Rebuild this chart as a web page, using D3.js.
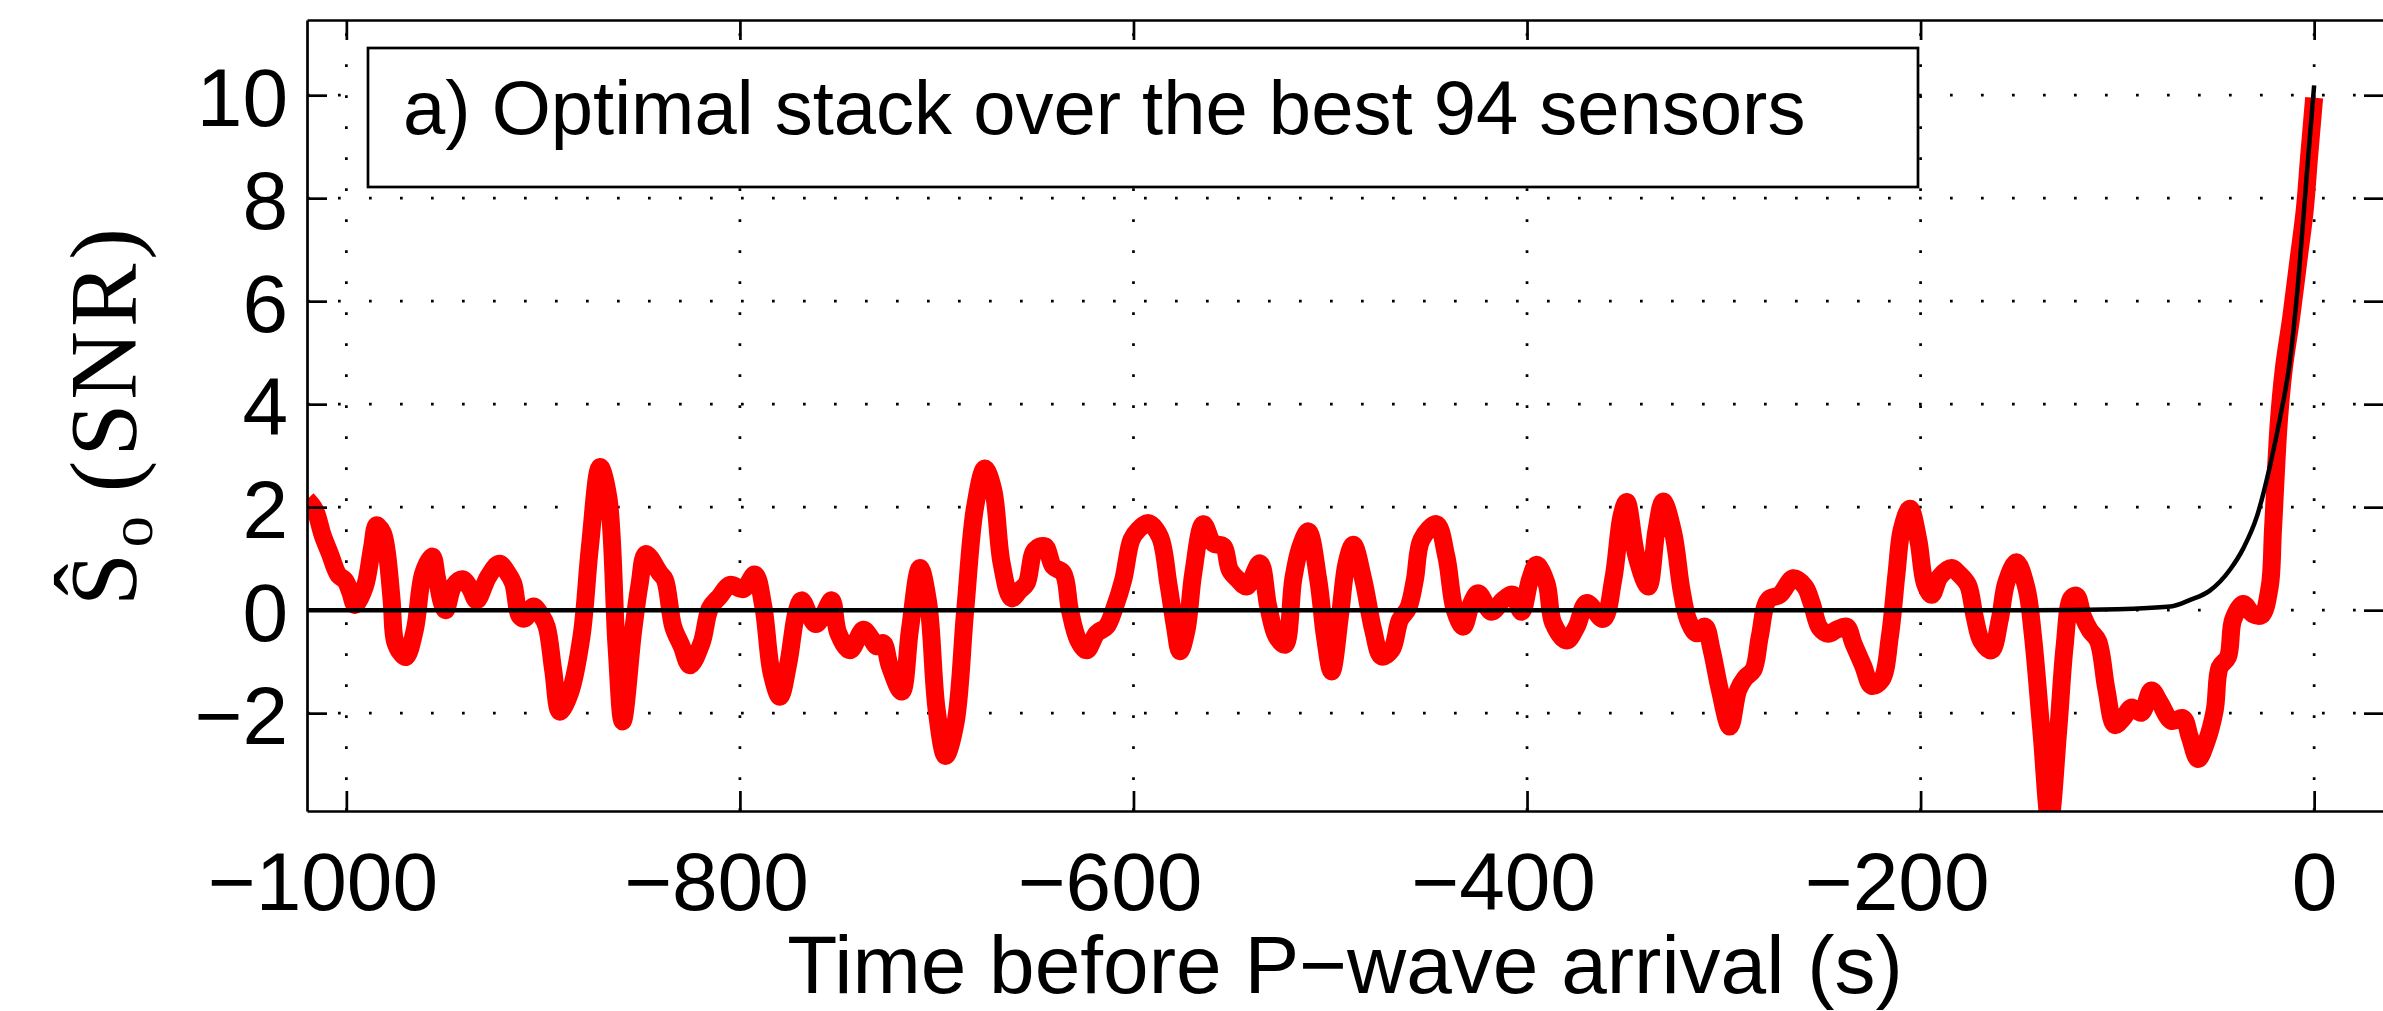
<!DOCTYPE html>
<html>
<head>
<meta charset="utf-8">
<script src="https://cdn.jsdelivr.net/npm/d3@7"></script>
<style>
  html, body { margin: 0; padding: 0; background: #fff; }
  svg { display: block; }
  text { font-family: "Liberation Sans", Arial, Helvetica, sans-serif; fill: #000; }
</style>
</head>
<body>
<svg id="chart" width="2383" height="1011"></svg>
<script>
//************* data ***************/
var xTicks = [-1000, -800, -600, -400, -200, 0];
var yTicks = [-2, 0, 2, 4, 6, 8, 10];

// optimal stack (red)
var stackTime = [-1020, -1016, -1012, -1008.4, -1004, -1000.7, -998, -995.6, -990.6, -987, -984.6, -981.5, -979.6, -977, -975.3, -972, -969.7, -965.2, -960.9, -956.3,
  -954.1, -951.5, -949.6, -945.7, -941.1, -937, -933.8, -927.9, -922.3, -918, -915.2, -911.8, -909.3, -905, -901, -898.2, -894.9, -891.5, -886.4, -880.5,
  -876.2, -871.1, -866.9, -862.7, -859.6, -854.2, -851, -847.8, -840.7, -838.1, -833.9, -829.6, -825.4, -819.5, -815.2, -810.2, -805.1, -798.3, -792.4, -788.1,
  -783.9, -779.7, -775.4, -771.2, -768.7, -764.4, -761.4, -757.6, -753.4, -750, -744.1, -737.3, -733.9, -730.5, -727.2, -723.8, -717.8, -713.6, -708.5, -704.3,
  -700, -695.5, -690.5, -685.5, -680.5, -675.5, -671.3, -667, -661.9, -657.7, -654.3, -650.1, -645, -640.8, -635.7, -632.3, -628.1, -623.8, -618.7, -613.7,
  -609.4, -605.2, -601, -597.6, -592.5, -586.6, -582.3, -578.9, -576.4, -573, -569.6, -564.5, -559.5, -554.3, -551, -546.8, -542.5, -535.7, -531.5, -527.3,
  -523, -518.8, -515.4, -511.2, -506.1, -502.7, -499.3, -495.1, -491.7, -488.3, -483.2, -478.2, -473.9, -468.8, -464.6, -460.4, -457, -453.6, -446, -441,
  -436.7, -432.4, -428.2, -424.8, -418, -412.1, -407.3, -402.8, -398.5, -395.1, -390.1, -386.7, -379.9, -374.8, -369.7, -361.3, -356.2, -352, -349.4, -344.3,
  -338.4, -334.2, -330.8, -325.7, -321.5, -318.1, -313.8, -309.6, -306.2, -302, -296.9, -292.7, -289.3, -285, -281.7, -277.4, -271.5, -264.7, -258.8, -255.4,
  -251.2, -246.9, -242.7, -237.6, -234.2, -229.1, -224.9, -219.8, -215.6, -212.2, -209.6, -205.4, -201.2, -197.8, -194.4, -190.2, -184.2, -180.1, -175.9, -172.5,
  -169.1, -164, -159.8, -156.4, -151.3, -146.2, -142.9, -138.6, -134.4, -130.1, -126.8, -123.4, -120.8, -117.4, -114, -109.8, -105.6, -101.3, -97.1, -92.9,
  -87.8, -82.7, -78.5, -72.5, -66.6, -63.2, -59, -54.8, -50.5, -48, -43.8, -41.2, -36.1, -31.1, -26.8, -22.6, -20.9, -18, -15.5, -11.6,
  -8.2, -4.8, -2.6, 0];
var stackSnr = [2.15, 1.95, 1.45, 1.1, 0.68, 0.58, 0.35, 0.1, 0.46, 1.2, 1.65, 1.5, 1.17, 0.2, -0.6, -0.85, -0.91, -0.38, 0.72, 1.04,
  0.65, 0.15, 0.0, 0.46, 0.6, 0.42, 0.19, 0.65, 0.9, 0.72, 0.52, -0.12, -0.16, 0.07, -0.1, -0.32, -1.16, -1.97, -1.61, -0.51,
  1.24, 2.78, 2.2, -0.7, -2.16, -0.38, 0.5, 1.09, 0.72, 0.59, -0.32, -0.7, -1.07, -0.64, 0.04, 0.27, 0.49, 0.41, 0.69, 0.07,
  -1.22, -1.68, -1.03, -0.03, 0.19, -0.12, -0.27, -0.09, 0.19, -0.45, -0.78, -0.38, -0.51, -0.7, -0.64, -1.09, -1.58, -0.38, 0.82, 0.14,
  -1.94, -2.83, -2.2, 0.0, 2.0, 2.75, 2.34, 0.91, 0.23, 0.39, 0.52, 1.17, 1.24, 0.85, 0.72, 0.0, -0.58, -0.78, -0.45, -0.32,
  0.07, 0.59, 1.37, 1.56, 1.69, 1.43, 0.52, -0.32, -0.8, -0.38, 0.72, 1.67, 1.3, 1.24, 0.78, 0.59, 0.46, 0.91, 0.07, -0.51,
  -0.67, 0.6, 1.2, 1.53, 0.59, -0.51, -1.19, -0.12, 0.91, 1.27, 0.59, -0.38, -0.9, -0.77, -0.19, 0.04, 0.59, 1.37, 1.67, 1.04,
  0.0, -0.32, 0.14, 0.33, -0.03, 0.2, 0.3, -0.03, 0.59, 0.88, 0.52, -0.25, -0.59, -0.32, 0.14, -0.17, 0.59, 1.82, 2.1, 1.04,
  0.46, 1.56, 2.11, 1.5, 0.39, -0.19, -0.45, -0.32, -0.77, -1.55, -2.26, -1.55, -1.32, -1.16, -0.51, 0.2, 0.3, 0.62, 0.46, 0.14,
  -0.35, -0.46, -0.38, -0.32, -0.64, -1.09, -1.47, -1.35, -0.51, 0.72, 1.56, 1.97, 1.37, 0.52, 0.3, 0.65, 0.82, 0.69, 0.49, -0.13,
  -0.6, -0.78, -0.19, 0.54, 0.93, 0.43, -0.5, -2.35, -4.1, -2.35, -0.7, 0.23, 0.28, -0.13, -0.39, -0.6, -1.53, -2.23, -2.1, -1.89,
  -1.99, -1.56, -1.79, -2.15, -2.1, -2.46, -2.89, -2.56, -1.94, -1.11, -0.91, -0.19, 0.12, -0.08, -0.1, 0.45, 1.57, 3.63, 4.66, 5.7,
  6.73, 7.76, 8.79, 9.95];

// fitted growth curve (black)
var fitTime = [-1020, -150, -100, -73, -63, -53, -42.7, -36, -29, -22.4, -17.3, -12.2, -8, -3.7, 0];
var fitSnr  = [0, 0, 0.02, 0.07, 0.2, 0.38, 0.79, 1.2, 1.83, 2.81, 3.74, 4.87, 6.42, 8.48, 10.19];

var legendLabel = "a) Optimal stack over the best 94 sensors";
var xTitle = "Time before P\u2212wave arrival (s)";

//************* set dimensions ***************/
var margin = {left: 307, top: 20};
var width = 2384 - margin.left,
    height = 811 - margin.top;

var svg = d3.select("#chart");
var g = svg.append("g")
    .attr("transform", "translate(" + margin.left + "," + margin.top + ")");

//************* scales ***************/
var x = d3.scaleLinear().domain([-1020, 35.5]).range([0, width]);
var y = d3.scaleLinear().domain([-3.9, 11.46]).range([height, 0]);

//************* grid ***************/
var grid = g.append("g").attr("stroke", "#000").attr("stroke-width", 2.7)
    .attr("stroke-dasharray", "2.7,28.3");
grid.selectAll(".gy").data(yTicks).enter().append("line")
    .attr("x1", 0).attr("x2", width)
    .attr("y1", function(d){ return y(d); }).attr("y2", function(d){ return y(d); });
grid.selectAll(".gx").data(xTicks).enter().append("line")
    .attr("x1", function(d){ return x(d); }).attr("x2", function(d){ return x(d); })
    .attr("y1", height).attr("y2", 0);

//************* lines ***************/
g.append("clipPath").attr("id", "plotclip")
  .append("rect").attr("width", width).attr("height", height);

var line = d3.line()
    .x(function(d){ return x(d[0]); })
    .y(function(d){ return y(d[1]); });

g.append("path")
    .datum(d3.zip(stackTime, stackSnr))
    .attr("clip-path", "url(#plotclip)")
    .attr("fill", "none")
    .attr("stroke", "#ff0000")
    .attr("stroke-width", 18)
    .attr("stroke-linejoin", "round")
    .attr("d", line.curve(d3.curveCatmullRom.alpha(0.5)));

g.append("path")
    .datum(d3.zip(fitTime, fitSnr))
    .attr("clip-path", "url(#plotclip)")
    .attr("fill", "none")
    .attr("stroke", "#000")
    .attr("stroke-width", 4.5)
    .attr("d", line.curve(d3.curveMonotoneX));

//************* axes ***************/
var fontSize = 82;

var xAxis = g.append("g")
    .attr("transform", "translate(0," + height + ")")
    .call(d3.axisBottom(x).tickValues(xTicks).tickSizeInner(-20).tickSizeOuter(0));
xAxis.attr("font-size", fontSize);
xAxis.selectAll("text").attr("y", 99).attr("dy", 0).each(function(d){
    // digits centred on the tick, minus sign hanging to the left
    var t = d3.select(this);
    var digits = String(Math.abs(d));
    t.text(digits).attr("text-anchor", "middle");
    var w = this.getComputedTextLength();
    if (d < 0) t.text("\u2212" + digits).attr("text-anchor", "end").attr("x", w / 2);
});

g.append("g")
    .call(d3.axisTop(x).tickValues(xTicks).tickSizeInner(-20).tickSizeOuter(0).tickFormat(""));

var yAxis = g.append("g")
    .call(d3.axisLeft(y).tickValues(yTicks).tickSizeInner(-20).tickSizeOuter(0)
      .tickFormat(function(d){ return d < 0 ? "\u2212" + Math.abs(d) : d; }));
yAxis.attr("font-size", fontSize);
yAxis.selectAll("text").attr("x", -19).attr("dy", 0).attr("y", 30);

g.append("g")
    .attr("transform", "translate(" + width + ",0)")
    .call(d3.axisRight(y).tickValues(yTicks).tickSizeInner(-20).tickSizeOuter(0).tickFormat(""));

g.selectAll(".domain, .tick line").attr("stroke", "#000").attr("stroke-width", 2.7);

//************* legend ***************/
svg.append("rect")
    .attr("x", 368).attr("y", 48).attr("width", 1550).attr("height", 139)
    .attr("fill", "#fff").attr("stroke", "#000").attr("stroke-width", 2.7);
svg.append("text")
    .attr("x", 403).attr("y", 134)
    .style("font-size", "76px")
    .text(legendLabel);

//************* titles ***************/
svg.append("text")
    .attr("x", margin.left + (2383 - margin.left) / 2).attr("y", 993)
    .attr("text-anchor", "middle")
    .style("font-size", fontSize + "px")
    .text(xTitle);

var yl = svg.append("text")
    .attr("transform", "translate(136,606) rotate(-90)")
    .style("font-family", "'Liberation Serif', 'DejaVu Serif', serif")
    .style("font-size", "95px");
yl.append("tspan").text("\u015C");
yl.append("tspan").text("o").style("font-size", "62px").attr("dy", 16).attr("dx", 6);
yl.append("tspan").text("(SNR)").attr("dy", -16).attr("dx", 24).style("letter-spacing", "4px");
</script>
</body>
</html>
